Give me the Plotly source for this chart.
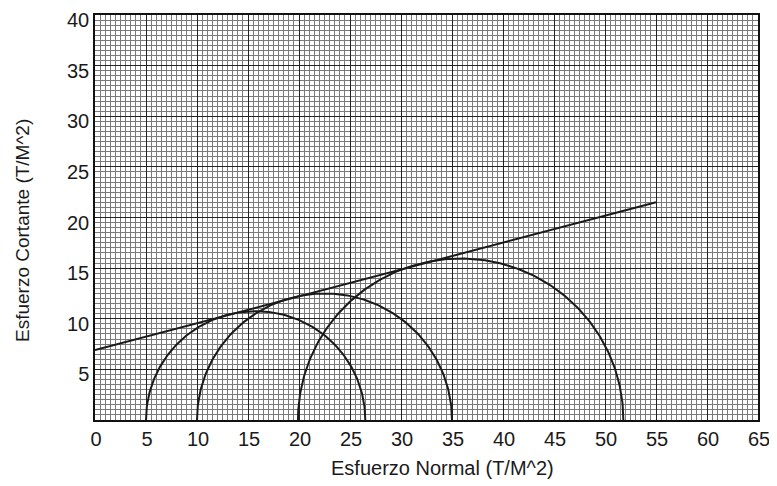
import numpy as np
import plotly.graph_objects as go

# Mohr circles: minor and major principal stresses (T/M^2)
sigma3 = [5.0, 10.0, 19.9]
sigma1 = [26.5, 35.0, 51.8]

# Failure envelope end points
env_x = [0.0, 55.0]
env_y = [6.9, 21.5]

x_ticks = [0, 5, 10, 15, 20, 25, 30, 35, 40, 45, 50, 55, 60, 65]
y_ticks = [5, 10, 15, 20, 25, 30, 35, 40]

fig = go.Figure()

theta = np.linspace(0, np.pi, 200)
for s3, s1 in zip(sigma3, sigma1):
    c = (s1 + s3) / 2
    r = (s1 - s3) / 2
    fig.add_trace(go.Scatter(x=c + r * np.cos(theta), y=r * np.sin(theta),
                             mode="lines", line=dict(color="#1a1a1a", width=2),
                             hoverinfo="skip", showlegend=False))

fig.add_trace(go.Scatter(x=env_x, y=env_y, mode="lines",
                         line=dict(color="#1a1a1a", width=2),
                         hoverinfo="skip", showlegend=False))

font = "Liberation Sans, Arial, sans-serif"
# page body has an 8px margin; plot area targeted at x 95..758, y 15..420
fig.update_layout(
    width=769, height=478,
    margin=dict(l=87, r=19, t=7, b=66),
    paper_bgcolor="white", plot_bgcolor="white",
    font=dict(family=font, size=20, color="#1a1a1a"),
    xaxis=dict(range=[0, 65], tickvals=x_ticks, ticks="", showline=True,
               linecolor="#111", linewidth=1.5, mirror=True, automargin=False,
               ticklabelshift=1, ticklabeloverflow="allow",
               showgrid=True, gridcolor="#222", gridwidth=1.3,
               minor=dict(dtick=0.5, showgrid=True, gridcolor="#7a7a7a", gridwidth=1),
               zeroline=False, fixedrange=True),
    yaxis=dict(range=[0, 40], tickvals=y_ticks, ticks="", showline=True,
               linecolor="#111", linewidth=1.5, mirror=True, automargin=False,
               ticklabelshift=5, ticklabeloverflow="allow",
               showgrid=True, gridcolor="#222", gridwidth=1.3,
               minor=dict(dtick=0.5, showgrid=True, gridcolor="#7a7a7a", gridwidth=1),
               zeroline=False, fixedrange=True),
    annotations=[
        dict(text="Esfuerzo Normal (T/M^2)", xref="paper", yref="paper",
             x=(442 - 95) / 663, y=-(468 - 420) / 405, showarrow=False,
             xanchor="center", yanchor="middle", font=dict(size=20)),
        dict(text="Esfuerzo Cortante (T/M^2)", xref="paper", yref="paper",
             x=-(95 - 22) / 663, y=(420 - 231) / 405, showarrow=False,
             textangle=-90, xanchor="center", yanchor="middle", font=dict(size=19)),
    ],
)

fig.write_html("out.html")
